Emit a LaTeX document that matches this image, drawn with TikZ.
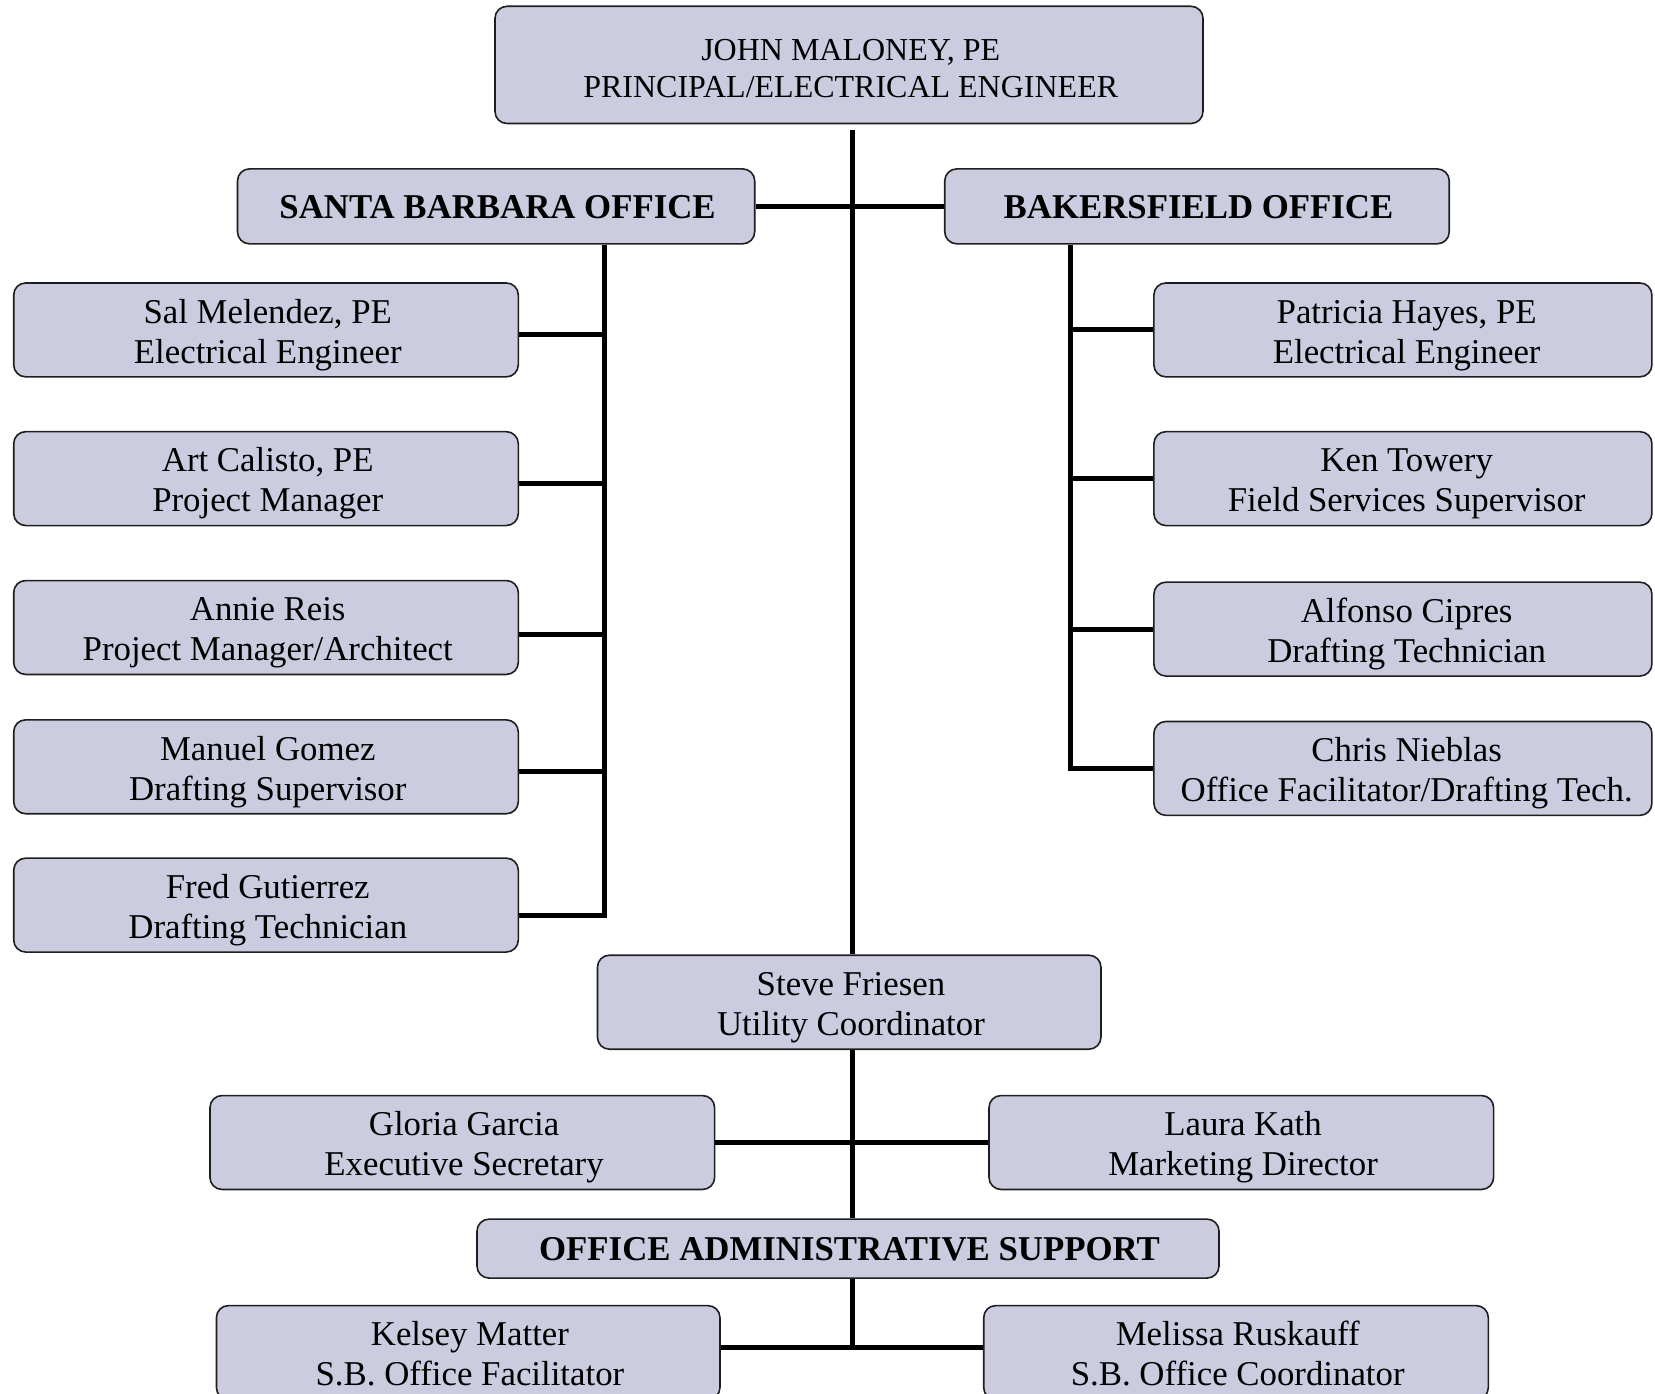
\documentclass[tikz,border=0pt]{standalone}
\usepackage{fontspec}
\setmainfont{Liberation Serif}
\definecolor{boxfill}{RGB}{204,204,224}
\definecolor{boxline}{RGB}{30,30,30}
\newcommand\twol[3][-5.3pt]{\hspace*{3.5pt}\raisebox{#1}[\height][\depth]{\begin{tabular}{@{}c@{}}#2\\#3\end{tabular}}}
\newcommand\onel[1]{\hspace*{3pt}\raisebox{-1pt}[\height][\depth]{#1}}
\tikzset{
  box/.style={draw=boxline, line width=1.6pt, fill=boxfill, rounded corners=12pt,
    align=center, inner sep=0pt, font=\fontsize{34.8}{40}\selectfont},
  stdbox/.style={box, minimum width=504.6pt, minimum height=93.9pt},
  headbox/.style={box, font=\fontsize{34.8}{40}\selectfont\bfseries},
  conn/.style={line width=5pt, black},
}
\begin{document}
\begin{tikzpicture}[x=1pt,y=-1pt]
\useasboundingbox (0,0) rectangle (1655,1394);
% nodes
\node[box, minimum width=708pt, minimum height=117.2pt, font=\fontsize{32}{37}\selectfont] (john) at (849,64.9) {\twol[-6.5pt]{JOHN MALONEY, PE}{PRINCIPAL/ELECTRICAL ENGINEER}};
\node[headbox, minimum width=517.2pt, minimum height=74.9pt] (sb) at (496.1,206.35) {\onel{SANTA BARBARA OFFICE}};
\node[headbox, minimum width=504.5pt, minimum height=74.9pt] (bk) at (1197,206.35) {\onel{BAKERSFIELD OFFICE}};
\node[stdbox] (sal) at (266,329.9) {\twol{Sal Melendez, PE}{Electrical Engineer}};
\node[stdbox] (art) at (266,478.6) {\twol{Art Calisto, PE}{Project Manager}};
\node[stdbox] (annie) at (266,627.5) {\twol{Annie Reis}{Project Manager/Architect}};
\node[stdbox] (manuel) at (266,766.8) {\twol{Manuel Gomez}{Drafting Supervisor}};
\node[stdbox] (fred) at (266,905.1) {\twol{Fred Gutierrez}{Drafting Technician}};
\node[stdbox, minimum width=498pt] (patricia) at (1402.9,329.9) {\hspace*{4pt}\twol{Patricia Hayes, PE}{Electrical Engineer}};
\node[stdbox, minimum width=498pt] (ken) at (1402.9,478.6) {\hspace*{4pt}\twol{Ken Towery}{Field Services Supervisor}};
\node[stdbox, minimum width=498pt] (alfonso) at (1402.9,629.1) {\hspace*{4pt}\twol{Alfonso Cipres}{Drafting Technician}};
\node[stdbox, minimum width=498pt] (chris) at (1402.9,768.4) {\hspace*{4pt}\twol{Chris Nieblas}{Office Facilitator/Drafting Tech.}};
\node[stdbox, minimum width=503.5pt, minimum height=94pt] (steve) at (849.2,1002.2) {\twol{Steve Friesen}{Utility Coordinator}};
\node[stdbox] (gloria) at (462.3,1142.5) {\twol{Gloria Garcia}{Executive Secretary}};
\node[stdbox] (laura) at (1241.3,1142.5) {\twol{Laura Kath}{Marketing Director}};
\node[headbox, minimum width=742pt, minimum height=59pt] (oas) at (848,1248.6) {\onel{OFFICE ADMINISTRATIVE SUPPORT}};
\node[stdbox, minimum width=503.5pt, minimum height=94pt] (kelsey) at (468.2,1352.6) {\twol{Kelsey Matter}{S.B. Office Facilitator}};
\node[stdbox, minimum width=504.6pt, minimum height=94pt] (melissa) at (1236,1352.6) {\twol{Melissa Ruskauff}{S.B. Office Coordinator}};
% helper coordinates
\coordinate (cx) at (852,0);
\coordinate (sbv) at (604.8,0);
\coordinate (bkv) at (1070.3,0);
\coordinate (kline) at ([yshift=5pt]kelsey.east);
% connectors
\draw[conn] ([yshift=-6pt]john.south -| cx) -- (steve.north -| cx);
\draw[conn] (sb.east) -- (bk.west);
\draw[conn] (sb.south -| sbv) |- ([yshift=-10pt]fred.east);
\draw[conn] ([yshift=-5pt]sal.east) -- ([yshift=-5pt]sal.east -| sbv);
\draw[conn] ([yshift=-5pt]art.east) -- ([yshift=-5pt]art.east -| sbv);
\draw[conn] ([yshift=-7pt]annie.east) -- ([yshift=-7pt]annie.east -| sbv);
\draw[conn] ([yshift=-5pt]manuel.east) -- ([yshift=-5pt]manuel.east -| sbv);
\draw[conn] (bk.south -| bkv) |- (chris.west);
\draw[conn] (patricia.west) -- (patricia.west -| bkv);
\draw[conn] (ken.west) -- (ken.west -| bkv);
\draw[conn] (alfonso.west) -- (alfonso.west -| bkv);
\draw[conn] (steve.south -| cx) -- (oas.north -| cx);
\draw[conn] (gloria.east) -- (laura.west);
\draw[conn] (oas.south -| cx) -- (kline -| cx);
\draw[conn] (kline) -- (kline -| melissa.west);
\end{tikzpicture}
\end{document}
